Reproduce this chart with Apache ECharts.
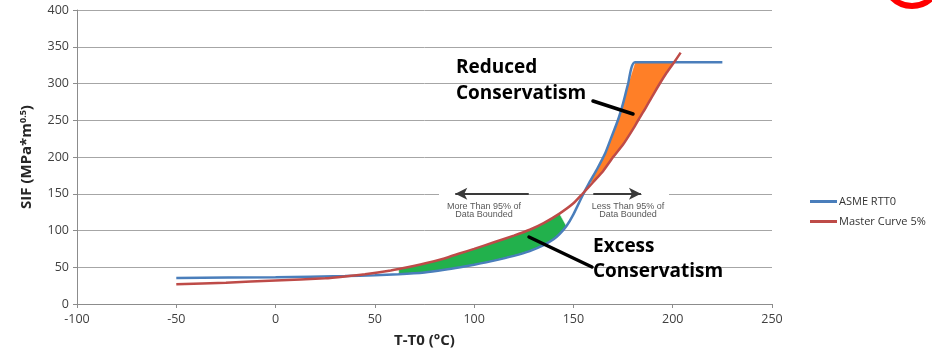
<!DOCTYPE html>
<html>
<head>
<meta charset="utf-8">
<script src="https://cdn.jsdelivr.net/npm/echarts@6/dist/echarts.min.js"></script>
<style>html,body{margin:0;padding:0;background:#fff;}#c{width:932px;height:354px;}</style>
</head>
<body>
<div id="c"></div>
<script>
// ---- data ----
var xTicks = [-100, -50, 0, 50, 100, 150, 200, 250];
var yTicks = [0, 50, 100, 150, 200, 250, 300, 350, 400];

var asmeName = 'ASME RTT0';
var asmeT = [-50, 0, 35, 50, 62, 75, 85, 93, 100, 110, 120, 128, 135, 140, 143, 146.5, 150, 154.3, 158, 162, 166, 169, 172.4, 175, 177.4, 181, 225];
var asmeK = [35.5, 36.5, 38, 39, 40.5, 43, 46.5, 50, 53.5, 59, 65.5, 72, 80, 88, 95, 106, 122, 146, 165, 184, 205, 226, 250, 273, 298, 329, 329];

var mcName = 'Master Curve 5%';
var mcT = [-50, -25, 0, 25, 35, 45, 58, 62, 75, 85, 93, 100, 110, 120, 128, 135, 143, 150, 154.6, 160, 165, 170, 175, 180, 182.6, 186, 190, 193.5, 197, 201, 204];
var mcK = [27, 29, 32, 35, 37.5, 40.5, 45.5, 47.5, 55, 62, 69, 75, 84, 93, 101, 110, 123, 137, 150, 166, 181, 200, 217, 238, 250, 265, 284, 300, 315, 330, 342];

// shaded ranges (T) between the two curves
var excessRange = [60, 147];
var reducedRange = [157, 201];

function pairs(T, K) { return T.map(function (t, i) { return [t, K[i]]; }); }
function inRange(T, K, r) {
  var out = [];
  for (var i = 0; i < T.length; i++) if (T[i] >= r[0] && T[i] <= r[1]) out.push([T[i], K[i]]);
  return out;
}

var chart = echarts.init(document.getElementById('c'), null, {renderer: 'canvas'});

function polyRenderer(upper, lower, color) {
  return function (params, api) {
    var pts = upper.map(function (p) { return api.coord(p); })
      .concat(lower.slice().reverse().map(function (p) { return api.coord(p); }));
    return {type: 'polygon', shape: {points: pts}, style: {fill: color, stroke: '#ffffff', lineWidth: 0.6}};
  };
}

var greenUpper = inRange(mcT, mcK, excessRange);
var greenLower = inRange(asmeT, asmeK, excessRange);
var orangeUpper = inRange(asmeT, asmeK, reducedRange);
var orangeLower = inRange(mcT, mcK, reducedRange);

var font = 'Open Sans';
chart.setOption({
  animation: false,
  backgroundColor: '#ffffff',
  grid: {left: 77, right: 160, top: 10, bottom: 50, outerBoundsMode: 'none'},
  legend: {
    orient: 'vertical', left: 805, top: 191,
    data: [asmeName, mcName],
    icon: 'rect', itemWidth: 27, itemHeight: 3, itemGap: 9,
    textStyle: {fontFamily: font, fontSize: 11, color: '#333333', padding: [0, 0, 0, -3]}
  },
  xAxis: {
    type: 'value', min: xTicks[0], max: xTicks[xTicks.length - 1], interval: 50,
    name: 'T-T0 (°C)', nameLocation: 'middle', nameGap: 29,
    nameTextStyle: {fontFamily: font, fontSize: 15, fontWeight: 'bold', color: '#262626'},
    axisLine: {onZero: false, lineStyle: {color: '#8c8c8c', width: 1}},
    axisTick: {show: true, length: 4, lineStyle: {color: '#8c8c8c'}},
    axisLabel: {fontFamily: font, fontSize: 12.5, color: '#404040', margin: 9},
    splitLine: {show: false}
  },
  yAxis: {
    type: 'value', min: yTicks[0], max: yTicks[yTicks.length - 1], interval: 50,
    name: 'SIF (MPa*m{sup|0.5})', nameLocation: 'middle', nameGap: 42, nameRotate: 90,
    nameTextStyle: {fontFamily: font, fontSize: 15, fontWeight: 'bold', color: '#262626',
      rich: {sup: {fontFamily: font, fontSize: 9, fontWeight: 'bold', color: '#262626', verticalAlign: 'top', padding: [0, 0, 7, 0]}}},
    axisLine: {show: true, onZero: false, lineStyle: {color: '#8c8c8c', width: 1}},
    axisTick: {show: true, length: 4, lineStyle: {color: '#8c8c8c'}},
    axisLabel: {fontFamily: font, fontSize: 12.5, color: '#404040', margin: 8},
    splitLine: {show: true, lineStyle: {color: '#a6a6a6', width: 1}}
  },
  series: [
    {type: 'custom', name: 'excess', coordinateSystem: 'cartesian2d', data: [[excessRange[0], 0]],
      renderItem: polyRenderer(greenUpper, greenLower, '#22b14c'), silent: true, z: 1},
    {type: 'custom', name: 'reduced', coordinateSystem: 'cartesian2d', data: [[reducedRange[0], 0]],
      renderItem: polyRenderer(orangeUpper, orangeLower, '#ff7f27'), silent: true, z: 1},
    {type: 'line', name: asmeName, data: pairs(asmeT, asmeK), showSymbol: false, symbol: 'none',
      smooth: 0.2, color: '#4a7ebb', lineStyle: {color: '#4a7ebb', width: 2.5}, z: 3,
      markLine: {
        silent: true, symbol: ['none', 'arrow'], symbolSize: [9, 12],
        lineStyle: {color: '#3a3a3a', width: 2, type: 'solid'}, label: {show: false},
        data: [
          [{coord: [127.5, 150]}, {coord: [90.5, 150]}],
          [{coord: [160, 150]}, {coord: [184, 150]}]
        ]
      }},
    {type: 'line', name: mcName, data: pairs(mcT, mcK), showSymbol: false, symbol: 'none',
      smooth: 0.2, color: '#be4b48', lineStyle: {color: '#be4b48', width: 2.5}, z: 4}
  ],
  graphic: [
    {type: 'rect', shape: {x: 439, y: 191, width: 17, height: 7}, style: {fill: '#ffffff'}, z: 1, silent: true},
    {type: 'rect', shape: {x: 642, y: 191, width: 27, height: 7}, style: {fill: '#ffffff'}, z: 1, silent: true},
    {type: 'text', x: 484, y: 203, style: {text: 'More Than 95% of\nData Bounded', fontFamily: 'Liberation Sans', fontSize: 9, lineHeight: 8, fill: '#595959', align: 'center', verticalAlign: 'top'}, z: 10},
    {type: 'text', x: 628, y: 203, style: {text: 'Less Than 95% of\nData Bounded', fontFamily: 'Liberation Sans', fontSize: 9, lineHeight: 8, fill: '#595959', align: 'center', verticalAlign: 'top'}, z: 10},
    {type: 'text', x: 456, y: 68, style: {text: 'Reduced', fontFamily: font, fontSize: 19, fontWeight: 'bold', fill: '#000000', align: 'left', verticalAlign: 'middle'}, z: 10},
    {type: 'text', x: 456, y: 94, style: {text: 'Conservatism', fontFamily: font, fontSize: 19, fontWeight: 'bold', fill: '#000000', align: 'left', verticalAlign: 'middle'}, z: 10},
    {type: 'text', x: 593, y: 247, style: {text: 'Excess', fontFamily: font, fontSize: 19, fontWeight: 'bold', fill: '#000000', align: 'left', verticalAlign: 'middle'}, z: 10},
    {type: 'text', x: 593, y: 272, style: {text: 'Conservatism', fontFamily: font, fontSize: 19, fontWeight: 'bold', fill: '#000000', align: 'left', verticalAlign: 'middle'}, z: 10},
    {type: 'line', shape: {x1: 593, y1: 101, x2: 633, y2: 114}, style: {stroke: '#000000', lineWidth: 3.5, lineCap: 'round'}, z: 10},
    {type: 'line', shape: {x1: 529, y1: 237, x2: 592, y2: 267}, style: {stroke: '#000000', lineWidth: 3.5, lineCap: 'round'}, z: 10},
    {type: 'circle', shape: {cx: 912, cy: -22, r: 28}, style: {fill: 'none', stroke: '#ff0000', lineWidth: 6}, z: 10, silent: true}
  ]
});
</script>
</body>
</html>
